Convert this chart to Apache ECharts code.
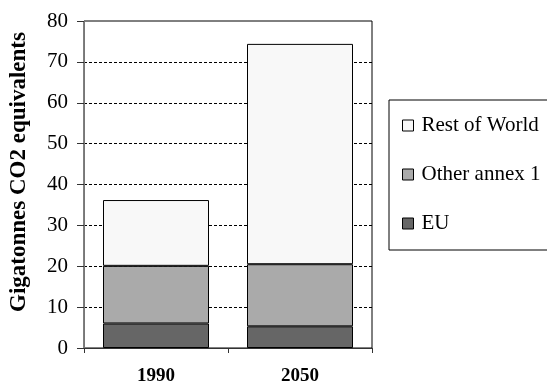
<!DOCTYPE html>
<html><head><meta charset="utf-8">
<script src="https://cdn.jsdelivr.net/npm/echarts@6/dist/echarts.min.js"></script>
<style>html,body{margin:0;padding:0;background:#fff}#c{width:547px;height:383px}</style>
</head><body><div id="c"></div>
<script>
const categories = ['1990', '2050'];
const euValues = [6.0, 5.3];
const otherAnnexValues = [14.1, 15.2];
const restOfWorldValues = [16.1, 53.9];
const seriesNames = ['EU', 'Other annex 1', 'Rest of World'];
const yAxisTitle = 'Gigatonnes CO2 equivalents';

const font = '"Liberation Serif", "Times New Roman", serif';
const chart = echarts.init(document.getElementById('c'), null, {renderer: 'canvas'});
const barStyle = c => ({color: c, borderColor: '#000', borderWidth: 1});
chart.setOption({
  animation: false,
  backgroundColor: '#fff',
  textStyle: {fontFamily: font},
  grid: {left: 84, right: 175, top: 21, bottom: 35, show: true, borderColor: '#000', borderWidth: 1, backgroundColor: 'transparent', containLabel: false, outerBoundsMode: 'none'},
  legend: {
    orient: 'vertical', left: 389, top: 100,
    data: [seriesNames[2], seriesNames[1], seriesNames[0]],
    icon: 'rect', itemWidth: 11, itemHeight: 11, itemGap: 28,
    padding: [15, 60, 16, 13],
    borderColor: '#000', borderWidth: 1,
    textStyle: {fontFamily: font, fontSize: 21, color: '#000', padding: [0, 0, 0, 3]},
    itemStyle: {borderColor: '#000', borderWidth: 1}
  },
  xAxis: {
    type: 'category', data: categories,
    axisLine: {lineStyle: {color: '#333', width: 1}},
    axisTick: {show: true, length: 5, lineStyle: {color: '#333'}},
    axisLabel: {fontFamily: font, fontSize: 19, fontWeight: 'bold', color: '#000', margin: 19}
  },
  yAxis: {
    type: 'value', min: 0, max: 80, interval: 10,
    name: yAxisTitle, nameLocation: 'middle', nameGap: 53, nameRotate: 90,
    nameTextStyle: {fontFamily: font, fontSize: 23, fontWeight: 'bold', color: '#000', padding: [0, 0, 0, 25]},
    axisLine: {show: true, lineStyle: {color: '#777', width: 1}},
    axisTick: {show: true, length: 7, lineStyle: {color: '#333'}},
    axisLabel: {fontFamily: font, fontSize: 21, color: '#000', margin: 16},
    splitLine: {show: true, showMinLine: false, showMaxLine: false, lineStyle: {color: '#000', type: [3, 2], width: 1}}
  },
  series: [
    {name: seriesNames[0], type: 'bar', stack: 't', data: euValues, barWidth: 106, itemStyle: barStyle('#666666')},
    {name: seriesNames[1], type: 'bar', stack: 't', data: otherAnnexValues, barWidth: 106, itemStyle: barStyle('#aaaaaa')},
    {name: seriesNames[2], type: 'bar', stack: 't', data: restOfWorldValues, barWidth: 106, itemStyle: barStyle('#f8f8f8')}
  ]
});
</script></body></html>
